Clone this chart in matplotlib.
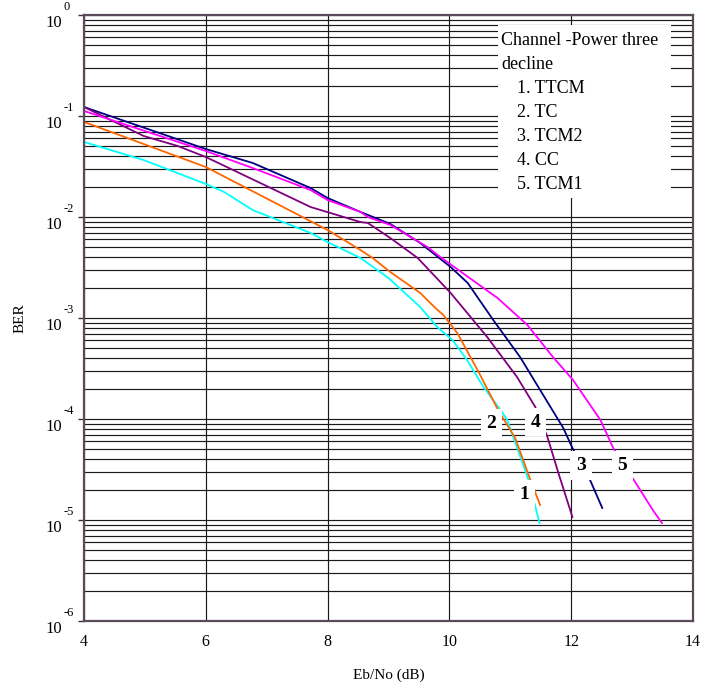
import matplotlib
matplotlib.use('Agg')
import matplotlib.pyplot as plt
import numpy as np
from matplotlib.ticker import LogLocator, NullFormatter, FixedLocator
from matplotlib.patches import Rectangle

plt.rcParams['font.family'] = ['Liberation Serif', 'DejaVu Serif']

# curves: Eb/No (dB) and log10(BER)
ttcm_x = [4.0, 4.98, 6.0, 6.3, 6.77, 7.72, 8.0, 8.54, 9.0, 9.52, 9.8, 10.05, 10.29, 10.56, 10.84, 10.95, 11.3, 11.48]
ttcm_log = [-1.257, -1.436, -1.673, -1.752, -1.931, -2.158, -2.248, -2.406, -2.604, -2.891, -3.089, -3.218,
            -3.416, -3.683, -3.911, -4.01, -4.604, -5.03]

tc_x = [4.0, 6.0, 8.0, 8.54, 8.74, 9.03, 9.52, 9.77, 9.9, 10.13, 10.48, 10.8, 11.08, 11.33, 11.49]
tc_log = [-1.059, -1.505, -2.129, -2.327, -2.406, -2.545, -2.752, -2.901, -2.97, -3.149, -3.535, -3.911,
          -4.188, -4.604, -4.851]

tcm2_x = [4.0, 6.0, 6.77, 7.72, 8.0, 8.54, 9.03, 9.52, 10.02, 10.3, 10.72, 11.16, 11.49, 11.87, 12.02, 12.31, 12.51]
tcm2_log = [-0.911, -1.327, -1.465, -1.713, -1.812, -1.95, -2.069, -2.257, -2.495, -2.653, -3.02, -3.386,
            -3.713, -4.089, -4.287, -4.604, -4.881]

cc_x = [4.0, 4.98, 5.54, 6.0, 7.72, 8.54, 8.66, 9.03, 9.48, 10.02, 10.62, 11.11, 11.41, 11.61, 11.79, 12.02]
cc_log = [-0.911, -1.198, -1.297, -1.406, -1.901, -2.05, -2.059, -2.208, -2.406, -2.752, -3.188, -3.584,
          -3.881, -4.178, -4.535, -4.97]

tcm1_x = [4.0, 6.0, 6.77, 7.72, 8.0, 8.54, 8.66, 9.03, 9.64, 9.85, 10.79, 11.28, 11.7, 12.03, 12.48, 12.69,
          13.05, 13.34, 13.49]
tcm1_log = [-0.95, -1.347, -1.515, -1.733, -1.832, -1.95, -2.0, -2.079, -2.297, -2.396, -2.802, -3.069,
            -3.386, -3.614, -4.01, -4.287, -4.624, -4.901, -5.03]

legend_title = ['Channel -Power three', 'decline']
legend_items = ['1. TTCM', '2. TC', '3. TCM2', '4. CC', '5. TCM1']

# curve number labels: text, x, log10(BER)
tag_text = ['2', '4', '3', '5', '1']
tag_x = [10.69, 11.41, 12.16, 12.84, 11.23]
tag_log = [-4.04, -4.03, -4.46, -4.46, -4.75]

x_ticks = [4, 6, 8, 10, 12, 14]
y_exps = [0, -1, -2, -3, -4, -5, -6]

fig = plt.figure(figsize=(7.04, 6.85), dpi=100)
ax = fig.add_axes([84 / 704, 1 - 621 / 685, 609 / 704, 606 / 685])

series = [
    (ttcm_x, ttcm_log, '#00FFFF'),
    (tc_x, tc_log, '#FF6600'),
    (tcm2_x, tcm2_log, '#000080'),
    (cc_x, cc_log, '#800080'),
    (tcm1_x, tcm1_log, '#FF00FF'),
]
for xs, ls, col in series:
    ax.plot(xs, 10.0 ** np.array(ls), color=col, lw=1.3, zorder=2)

ax.set_yscale('log')
ax.set_xlim(4, 14)
ax.set_ylim(1e-6, 1)
ax.xaxis.set_major_locator(FixedLocator(x_ticks))
ax.yaxis.set_major_locator(FixedLocator([10.0 ** e for e in y_exps]))
ax.yaxis.set_minor_locator(LogLocator(base=10, subs=np.arange(2, 10)))
ax.yaxis.set_major_formatter(NullFormatter())
ax.yaxis.set_minor_formatter(NullFormatter())

ax.grid(True, which='both', axis='y', color='#1a1a1a', lw=0.85)
ax.grid(True, which='major', axis='x', color='#1a1a1a', lw=0.85)
ax.set_axisbelow(True)

ax.tick_params(axis='x', length=0, pad=9, labelsize=11.5)
ax.tick_params(axis='y', which='major', length=4, width=1, direction='out', color='#333333')
ax.tick_params(axis='y', which='minor', length=0)
for s in ax.spines.values():
    s.set_color('#5a4a5a')
    s.set_linewidth(1.6)

# y tick labels in old style: "10" with raised exponent
for e in y_exps:
    ax.annotate('10', xy=(0, 10.0 ** e), xycoords=('axes fraction', 'data'),
                xytext=(-15.5, -5.5), textcoords='offset points',
                ha='right', va='center', fontsize=12)
    ax.annotate(str(e), xy=(0, 10.0 ** e), xycoords=('axes fraction', 'data'),
                xytext=(-15, 6), textcoords='offset points',
                ha='left', va='center', fontsize=9)

ax.set_xlabel('Eb/No (dB)', fontsize=11, labelpad=14)
ax.set_ylabel('BER', fontsize=11, labelpad=34)

# legend box as plain text over white
ax.add_patch(Rectangle((0.679, 0.698), 0.285, 0.2855, transform=ax.transAxes,
                       facecolor='white', edgecolor='none', zorder=3))
ax.text(0.685, 0.9587, legend_title[0], transform=ax.transAxes, fontsize=13,
        va='center', ha='left', zorder=4)
ax.text(0.685, 0.9175, legend_title[1], transform=ax.transAxes, fontsize=13,
        va='center', ha='left', zorder=4)
item_y = [0.8795, 0.8383, 0.7987, 0.7607, 0.7195]
for txt, yy in zip(legend_items, item_y):
    ax.text(0.7115, yy, txt, transform=ax.transAxes, fontsize=13,
            va='center', ha='left', zorder=4)

for t, tx, tl in zip(tag_text, tag_x, tag_log):
    ax.text(tx, 10.0 ** tl, t, fontsize=14, fontweight='bold', ha='center', va='center',
            zorder=5, bbox=dict(boxstyle='square,pad=0.3', facecolor='white', edgecolor='none'))

fig.savefig('out.png', dpi=100)
